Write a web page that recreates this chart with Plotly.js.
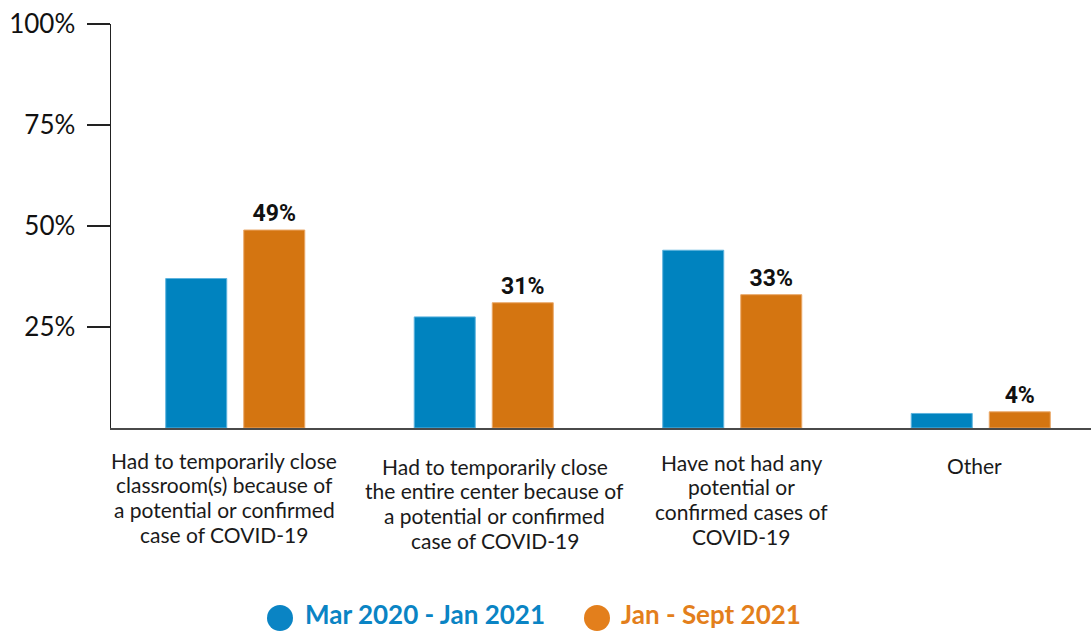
<!DOCTYPE html>
<html>
<head>
<meta charset="utf-8">
<script src="https://cdn.plot.ly/plotly-3.0.1.min.js"></script>
<style>
  html, body { margin: 0; padding: 0; background: #fff; }
  #chart { width: 1091px; height: 632px; }
</style>
</head>
<body>
<div id="chart"></div>
<script>
// Survey responses: COVID-19 closures in child care centers
const categories = [
  "Had to temporarily close<br>classroom(s) because of<br>a potential or confirmed<br>case of COVID-19",
  "Had to temporarily close<br>the entire center because of<br>a potential or confirmed<br>case of COVID-19",
  "Have not had any<br>potential or<br>confirmed cases of<br>COVID-19",
  "Other"
];
const seriesNames = ["Mar 2020 - Jan 2021", "Jan - Sept 2021"];
const earlyValues = [37, 27.5, 44, 3.6];
const laterValues = [49, 31, 33, 4];
const yTickValues = [25, 50, 75, 100];
const yTickLabels = ["25%", "50%", "75%", "100%"];

const BLUE = "#0083bf";
const ORANGE = "#d47511";
const LEGEND_BLUE = "#0a84c4";
const LEGEND_ORANGE = "#e37f1c";

const W = 1091, H = 632;
const M = { l: 111, r: 0, t: 24, b: 204 };
const plotW = W - M.l - M.r, plotH = H - M.t - M.b;
const px2x = p => (p - M.l) / plotW;
const px2y = p => (H - M.b - p) / plotH;

const idx = categories.map((_, i) => i);

const traces = [
  {
    type: "bar", x: idx, y: earlyValues, name: seriesNames[0],
    marker: { color: BLUE, line: { color: "#5db3de", width: 1 } },
    hoverinfo: "skip", showlegend: false
  },
  {
    type: "bar", x: idx, y: laterValues, name: seriesNames[1],
    marker: { color: ORANGE, line: { color: "#eaa868", width: 1 } },
    text: laterValues.map(v => v + "%"),
    textposition: "outside",
    textfont: { family: "Roboto, Arial, sans-serif", size: 23, color: "#111", weight: "bold" },
    texttemplate: "<b>%{text}</b>",
    cliponaxis: false,
    hoverinfo: "skip", showlegend: false
  }
];

// category labels under each group, one annotation per line for tight leading
const labelShiftX = [-11, 11, 9, -6];
const labelFirstLineY = [460, 466, 462, 465];
const LINE_STEP = 24.7;
const annotations = [];
categories.forEach((c, i) => {
  c.split("<br>").forEach((line, k) => {
    annotations.push({
      x: i, xref: "x", y: px2y(labelFirstLineY[i] + k * LINE_STEP), yref: "paper",
      xanchor: "center", yanchor: "middle",
      xshift: labelShiftX[i], borderpad: 0,
      text: line, showarrow: false, align: "center",
      font: { family: "Lato, sans-serif", size: 21, color: "#1a1a1a" }
    });
  });
});

// legend: coloured dots followed by bold coloured labels
const legendY = px2y(618);
const legendItems = [
  { dot: 280, textX: 304, color: LEGEND_BLUE, label: seriesNames[0] },
  { dot: 597, textX: 620, color: LEGEND_ORANGE, label: seriesNames[1] }
];
const shapes = [];
legendItems.forEach(it => {
  shapes.push({
    type: "circle", xref: "paper", yref: "paper",
    xsizemode: "pixel", ysizemode: "pixel",
    xanchor: px2x(it.dot), yanchor: legendY,
    x0: -13, x1: 13, y0: -13, y1: 13,
    fillcolor: it.color, line: { width: 0 }
  });
  annotations.push({
    x: px2x(it.textX), xref: "paper", y: px2y(631), yref: "paper",
    xanchor: "left", yanchor: "bottom", showarrow: false, borderpad: 0,
    text: "<b>" + it.label + "</b>",
    font: { family: "Lato, sans-serif", size: 26, color: it.color }
  });
});

const layout = {
  width: W, height: H,
  margin: { l: M.l, r: M.r, t: M.t, b: M.b, pad: 0 },
  paper_bgcolor: "#fff", plot_bgcolor: "#fff",
  showlegend: false,
  barmode: "group", bargap: 0.372, bargroupgap: 0.218,
  xaxis: {
    range: [-0.5, -0.5 + plotW / 248.5],
    showticklabels: false, ticks: "",
    showgrid: false, zeroline: false,
    showline: true, linecolor: "#4a4a4a", linewidth: 2,
    fixedrange: true
  },
  yaxis: {
    range: [0, 100],
    tickvals: yTickValues, ticktext: yTickLabels,
    ticks: "outside", ticklen: 23, tickwidth: 1.5, tickcolor: "#222",
    ticklabelstandoff: 6,
    tickfont: { family: "Lato, sans-serif", size: 26, color: "#111" },
    showgrid: false, zeroline: false,
    showline: true, linecolor: "#222", linewidth: 1.5,
    fixedrange: true
  },
  annotations: annotations,
  shapes: shapes
};

Plotly.newPlot("chart", traces, layout, { displayModeBar: false, staticPlot: true });
</script>
</body>
</html>
